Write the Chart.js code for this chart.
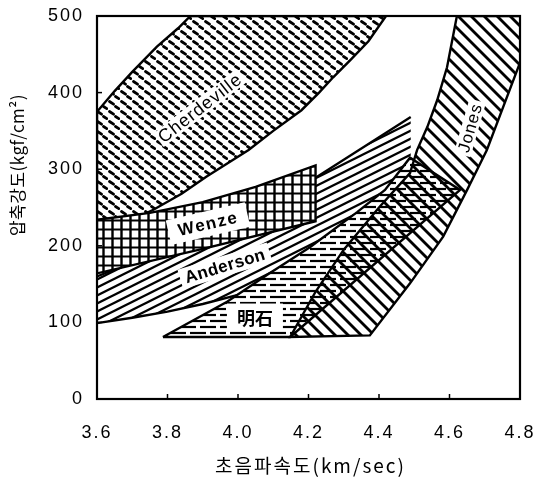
<!DOCTYPE html>
<html><head><meta charset="utf-8">
<script src="https://cdn.jsdelivr.net/npm/chart.js@4.4.1/dist/chart.umd.min.js"></script>
<style>html,body{margin:0;padding:0;background:#fff}canvas{display:block}</style>
</head><body><canvas id="c" width="538" height="481"></canvas>
<script>
// ---- axis ticks / titles ----
const xTickValues = [3.6, 3.8, 4.0, 4.2, 4.4, 4.6, 4.8];
const yTickValues = [0, 100, 200, 300, 400, 500];
const xTitle = '초음파속도(km/sec)';
const yTitle = '압축강도(kgf/cm²)';

// ---- region names ----
const regionNames = ['Cherdeville', 'Wenze', 'Anderson', '明石', 'Jones'];

// ---- region boundaries: [velocity km/sec, strength kgf/cm2] ----
const cherdevilleUpper = [[3.6,375],[3.65,402],[3.70,427],[3.77,460],[3.83,484],[3.865,500]];
const cherdevilleLower = [[3.6,215],[3.68,230],[3.76,247],[3.84,268],[3.91,290],[4.03,325],[4.10,350],[4.18,377],[4.23,400],[4.27,420],[4.32,443],[4.37,467],[4.42,500]];
const wenzeUpper = [[3.6,234],[3.75,243],[3.9,257],[4.05,277],[4.22,305]];
const wenzeLower = [[3.6,164],[3.9,196],[4.22,232]];
const andersonUpper = [[3.6,160],[3.9,215],[4.2,283],[4.49,368]];
const andersonLower = [[3.6,99],[3.7,106],[3.8,114],[3.9,124],[4.0,136],[4.1,155],[4.2,183],[4.3,213],[4.49,262]];
const akashiUpper = [[3.787,81],[3.969,127],[4.082,162],[4.204,198],[4.338,244],[4.417,273],[4.488,315],[4.63,273]];
const akashiLower = [[3.787,81],[4.148,81]];
const jonesLeft = [[4.621,500],[4.593,433],[4.565,390],[4.537,355],[4.508,325],[4.488,295],[4.40,250],[4.30,195],[4.22,140],[4.148,81]];
const jonesRight = [[4.86,500],[4.80,439],[4.706,325],[4.65,273],[4.582,212],[4.488,151],[4.374,83]];

// ---- in-chart label anchors [velocity, strength] ----
const labelAnchors = [[3.892,380],[3.915,229],[3.963,174],[4.048,107],[4.658,354]];

function toXY(pts) { return pts.map(([x, y]) => ({x, y})); }
function poly(a, b) { return toXY([...a, ...b.slice().reverse(), a[0]]); }

function mkPattern(w, h, bg, draw) {
  const c = document.createElement('canvas');
  c.width = w; c.height = h;
  const g = c.getContext('2d');
  if (bg) { g.fillStyle = bg; g.fillRect(0, 0, w, h); }
  g.strokeStyle = '#000'; g.fillStyle = '#000';
  draw(g, w, h);
  return g.createPattern(c, 'repeat');
}
function seg(g, x1, y1, x2, y2) { g.beginPath(); g.moveTo(x1, y1); g.lineTo(x2, y2); g.stroke(); }

const patCherdeville = mkPattern(12, 10, '#fff', g => {
  g.lineWidth = 2.8; g.lineCap = 'round';
  seg(g, 1.5, 1.5, 5.5, 4.2); seg(g, 7.5, 6.5, 10.8, 8.6);
});
const patWenze = mkPattern(9, 9, '#fff', g => {
  g.lineWidth = 2.4; seg(g, 4.5, 0, 4.5, 9);
  g.lineWidth = 2; seg(g, 0, 4.5, 9, 4.5);
});
const patAnderson = mkPattern(16, 8, '#fff', g => {
  g.lineWidth = 2.3;
  for (const c of [0, 8, 16]) seg(g, -1, c + 0.5, 17, c - 8.5);
});
const patAkashi = mkPattern(20, 12, '#fff', g => {
  g.lineWidth = 2.2;
  seg(g, 0, 3, 16, 3);
  seg(g, 10, 9, 20, 9); seg(g, 0, 9, 6, 9);
});
const patJones = mkPattern(13, 13, null, g => {
  g.lineWidth = 2.8;
  for (const c of [-13, 0, 13]) seg(g, -1, c - 1, 14, c + 14);
});

const base = {pointRadius: 0, tension: 0, borderColor: '#000', borderWidth: 2.4};
const datasets = [
  {...base, label: regionNames[0], data: poly(cherdevilleUpper, cherdevilleLower), fill: 'shape', backgroundColor: patCherdeville, order: 6},
  {...base, label: regionNames[1], data: poly(wenzeUpper, wenzeLower), fill: 'shape', backgroundColor: patWenze, order: 4},
  {...base, label: regionNames[2], data: poly(andersonUpper, andersonLower), fill: 'shape', backgroundColor: patAnderson, borderWidth: 0, order: 5},
  {...base, label: regionNames[2] + ' upper', data: toXY(andersonUpper), fill: false, order: 4.6},
  {...base, label: regionNames[2] + ' lower', data: toXY(andersonLower), fill: false, order: 4.5},
  {...base, label: regionNames[3], data: poly(akashiUpper, akashiLower), fill: 'shape', backgroundColor: patAkashi, order: 3},
  {...base, label: regionNames[4], data: poly(jonesLeft, jonesRight), fill: 'shape', backgroundColor: patJones, order: 2},
];

const labelStyle = [
  {rot: -38, font: '18px "Liberation Sans"', ls: '1px', padX: 2, h: 17},
  {rot: -13, font: 'bold 17px "Liberation Sans"', ls: '1.5px', padX: 10, h: 25},
  {rot: -17, font: 'bold 17px "Liberation Sans"', ls: '0.5px', padX: 5, h: 20},
  {rot: 0, font: 'bold 18px "Noto Sans CJK KR"', ls: '0px', padX: 10, h: 27},
  {rot: -74, font: '17px "Liberation Sans"', ls: '1px', padX: 3, h: 17},
];

const decor = {
  id: 'decor',
  beforeDraw(chart) { chart.ctx.letterSpacing = '2px'; },
  afterDatasetsDraw(chart) {
    const ctx = chart.ctx, a = chart.chartArea;
    const xs = chart.scales.x, ys = chart.scales.y;
    ctx.save();
    ctx.letterSpacing = '0px';
    // frame
    ctx.strokeStyle = '#000'; ctx.lineWidth = 2.2;
    ctx.strokeRect(a.left, a.top, a.right - a.left, a.bottom - a.top);
    // inward ticks
    ctx.lineWidth = 1.5;
    xTickValues.slice(1, -1).forEach(v => {
      const px = xs.getPixelForValue(v);
      ctx.beginPath(); ctx.moveTo(px, a.bottom); ctx.lineTo(px, a.bottom - 5); ctx.stroke();
    });
    yTickValues.slice(1, -1).forEach(v => {
      const py = ys.getPixelForValue(v);
      ctx.beginPath(); ctx.moveTo(a.left, py); ctx.lineTo(a.left + 5, py); ctx.stroke();
    });
    // region labels
    regionNames.forEach((t, i) => {
      const s = labelStyle[i];
      const [lx, ly] = labelAnchors[i];
      ctx.save();
      ctx.translate(xs.getPixelForValue(lx), ys.getPixelForValue(ly));
      ctx.rotate(s.rot * Math.PI / 180);
      ctx.font = s.font;
      ctx.letterSpacing = s.ls;
      const w = ctx.measureText(t).width;
      ctx.fillStyle = '#fff';
      ctx.fillRect(-w / 2 - s.padX, -s.h / 2, w + 2 * s.padX, s.h);
      ctx.fillStyle = '#000';
      ctx.textAlign = 'center'; ctx.textBaseline = 'middle';
      ctx.fillText(t, 0, 1);
      ctx.restore();
    });
    // axis titles
    ctx.fillStyle = '#000';
    ctx.textAlign = 'center'; ctx.textBaseline = 'middle';
    ctx.font = '19px "Noto Sans CJK KR"';
    ctx.letterSpacing = '2px';
    ctx.fillText(xTitle, (a.left + a.right) / 2 + 2, 466);
    ctx.save();
    ctx.translate(18, 165);
    ctx.rotate(-Math.PI / 2);
    ctx.font = '17px "Noto Sans CJK KR"';
    ctx.letterSpacing = '0.5px';
    ctx.fillText(yTitle, 0, 0);
    ctx.restore();
    ctx.restore();
  }
};

function zeroPad(s) { s.paddingLeft = 0; s.paddingRight = 0; s.paddingTop = 0; s.paddingBottom = 0; }

new Chart(document.getElementById('c'), {
  type: 'line',
  data: {datasets},
  options: {
    responsive: false,
    animation: false,
    devicePixelRatio: 1,
    layout: {padding: {left: 0, right: 18, top: 16, bottom: 0}},
    plugins: {legend: {display: false}, tooltip: {enabled: false}},
    scales: {
      x: {
        type: 'linear', min: 3.6, max: 4.8,
        afterBuildTicks: s => { s.ticks = xTickValues.map(v => ({value: v})); },
        afterFit: s => { s.height = 82; zeroPad(s); },
        grid: {display: false, drawTicks: false},
        border: {display: false},
        ticks: {color: '#000', padding: 23, maxRotation: 0, autoSkip: false,
                font: {family: '"Liberation Sans"', size: 18},
                callback: v => Number(v).toFixed(1)}
      },
      y: {
        type: 'linear', min: 0, max: 500,
        afterBuildTicks: s => { s.ticks = yTickValues.map(v => ({value: v})); },
        afterFit: s => { s.width = 97; zeroPad(s); },
        grid: {display: false, drawTicks: false},
        border: {display: false},
        ticks: {color: '#000', padding: 13,
                font: {family: '"Liberation Sans"', size: 18},
                callback: v => String(v)}
      }
    }
  },
  plugins: [decor]
});
</script>
</body></html>
